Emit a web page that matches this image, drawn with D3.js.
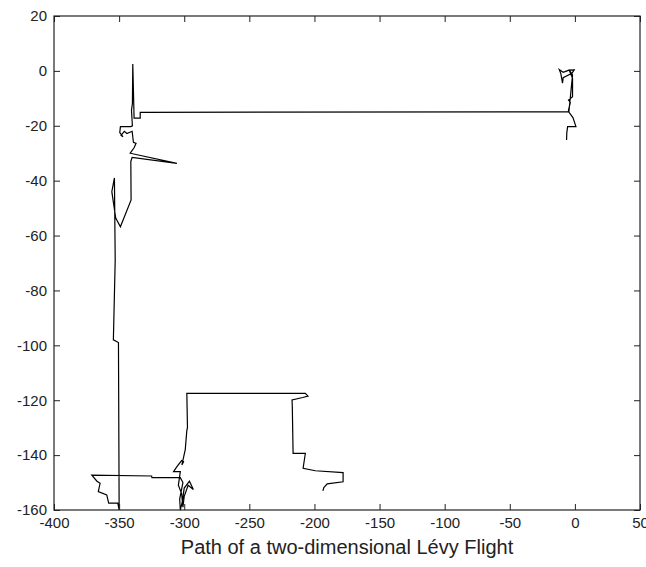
<!DOCTYPE html>
<html>
<head>
<meta charset="utf-8">
<script src="https://cdn.jsdelivr.net/npm/d3@7"></script>
<style>
  html, body { margin: 0; padding: 0; background: #fff; }
  svg { display: block; font-family: "Liberation Sans", Arial, sans-serif; }
</style>
</head>
<body>
<div id="chart"></div>
<script>
// Path of the walk (x, y pairs in order).
const pathX = [
  -6.4, -6.2, -5.6, 0.8, -1.5, -4.9, -4.9, -3.5, -4.9, -1.8, -1.8, -4.4, -0.5,
  -2.3, -9, -9.5, -10.8, -12, -9, -4.4, -1.8, -4.6,
  -333.8, -333.8, -338.5, -339.5, -339.8, -340.5, -339.8, -341, -349, -349.5,
  -347, -348.5, -346, -344, -340, -339, -337, -338.5, -341.5, -305.6, -340,
  -341, -340.8, -349, -352.6, -355.6, -353.6, -353, -354.4, -350.5, -350,
  -350, -351, -358, -359.5, -366, -364.6, -367, -371, -325, -324.8, -303,
  -301, -303.5, -303, -301.5, -300, -296, -293, -297, -300, -301, -302,
  -304.5, -303, -308.2, -305.6, -302, -300.5, -301.8, -299.2, -298, -297.5,
  -298, -207, -205, -209, -217.2, -217, -216.4, -207, -208.7, -199.3, -178,
  -178, -190.2, -192.8, -193.5
];
const pathY = [
  -25.2, -22.5, -20.3, -20.3, -17, -14.8, -14.3, -11.5, -10.6, -9.4, -2.7, 0.3, 0.4,
  -0.9, -2.5, -4.5, -1, 0.5, -0.5, 0.3, -1.5, -14.9,
  -15.1, -17.2, -17.2, 2.5, -12, -14.3, -20, -20.3, -20.3, -22.5,
  -24, -23.5, -22, -22.8, -22, -26, -26.4, -28, -30, -33.7, -31.5,
  -33, -47, -56.8, -53.6, -44, -39, -69, -98, -99, -156.4,
  -160, -157.5, -157.5, -154.5, -153.3, -150.3, -149.5, -147.3, -147.6, -148.2, -148.2,
  -150, -156, -160, -157, -152, -149.5, -152.5, -151, -155, -159, -154,
  -151, -146, -146, -144.2, -142, -142.4, -143.6, -138, -131, -130,
  -117.5, -117.5, -118.5, -119, -119.9, -122.4, -139.4, -139.4, -144.8, -145.7, -146.4,
  -149.7, -150.5, -151.8, -153
];
const xTicks = [-400, -350, -300, -250, -200, -150, -100, -50, 0, 50];
const yTicks = [20, 0, -20, -40, -60, -80, -100, -120, -140, -160];
const xLabel = 'Path of a two-dimensional Lévy Flight';

const W = 646, H = 567;
const margins = {top: 16, right: 6, bottom: 57, left: 54};
const width = W - margins.left - margins.right;
const height = H - margins.top - margins.bottom;

const svg = d3.select('#chart').append('svg')
  .attr('width', W)
  .attr('height', H);

const g = svg.append('g')
  .attr('transform', `translate(${margins.left}, ${margins.top})`);

const x = d3.scaleLinear().domain([-400, 50]).range([0, width]);
const y = d3.scaleLinear().domain([-160, 20]).range([height, 0]);

// plain hyphen for negatives, like the original
const fmt = d => String(d);

// The walk itself
const points = pathX.map((v, i) => [v, pathY[i]]);
g.append('path')
  .datum(points)
  .attr('fill', 'none')
  .attr('stroke', '#000')
  .attr('stroke-width', 1.2)
  .attr('stroke-linejoin', 'miter')
  .attr('d', d3.line().x(d => x(d[0])).y(d => y(d[1])));

// Axes: ticks point inward on all four sides, box round the plot
function styleAxis(sel) {
  sel.select('.domain').remove();
  sel.selectAll('.tick line').attr('stroke', '#222').attr('stroke-width', 1);
  sel.selectAll('.tick text')
    .attr('fill', '#222')
    .attr('font-size', '15px')
    .attr('font-family', '"Liberation Sans", Arial, sans-serif');
}

g.append('g')
  .attr('transform', `translate(0, ${height})`)
  .call(d3.axisBottom(x).tickValues(xTicks).tickSize(-6).tickPadding(7).tickFormat(fmt))
  .call(styleAxis);

g.append('g')
  .call(d3.axisTop(x).tickValues(xTicks).tickSize(-6).tickFormat(''))
  .call(styleAxis);

g.append('g')
  .call(d3.axisLeft(y).tickValues(yTicks).tickSize(-6).tickPadding(7).tickFormat(fmt))
  .call(styleAxis);

g.append('g')
  .attr('transform', `translate(${width}, 0)`)
  .call(d3.axisRight(y).tickValues(yTicks).tickSize(-6).tickFormat(''))
  .call(styleAxis);

g.append('rect')
  .attr('width', width)
  .attr('height', height)
  .attr('fill', 'none')
  .attr('stroke', '#222')
  .attr('stroke-width', 1.2);

// x label
g.append('text')
  .attr('x', width / 2)
  .attr('y', height + 44)
  .attr('text-anchor', 'middle')
  .attr('font-size', '20px')
  .attr('fill', '#222')
  .text(xLabel);
</script>
</body>
</html>
